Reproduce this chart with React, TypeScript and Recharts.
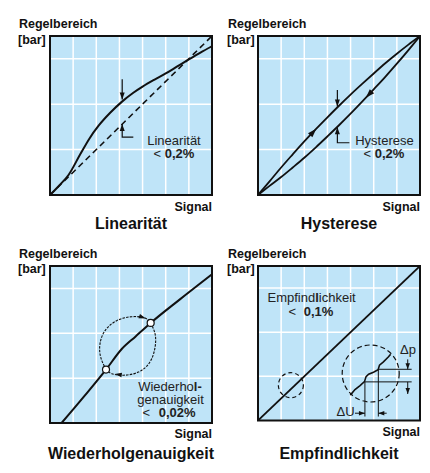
import React from 'react';
import { ComposedChart, Line, XAxis, YAxis, CartesianGrid, ReferenceDot, ReferenceArea } from 'recharts';

// ---------- shared ----------
const GRID_LINES = [1, 2, 3, 4, 5, 6];
const DOMAIN: [number, number] = [0, 7];
const TITLES = ['Linearität', 'Hysterese', 'Wiederholgenauigkeit', 'Empfindlichkeit'];
const Y_LABEL = ['Regelbereich', '[bar]'];
const X_LABEL = 'Signal';

// ---------- Linearität ----------
const linSignal = [0, 0.4, 0.8, 1.3, 1.7, 2.1, 2.6, 3.1, 3.6, 4.0, 4.5, 5.0, 5.5, 6.0, 6.5, 7.0];
const linActual = [0, 0.42, 0.88, 1.78, 2.48, 3.05, 3.62, 4.1, 4.5, 4.77, 5.07, 5.35, 5.66, 5.97, 6.27, 6.55];
const linIdealX = [0, 7];
const linIdealY = [0, 7];
const linMarkTopX = [3.12, 3.12];
const linMarkTopY = [5.1, 4.2];
const linMarkBotX = [3.12, 3.12, 3.6];
const linMarkBotY = [3.13, 2.55, 2.55];

// ---------- Hysterese ----------
const hysSignal = [0, 0.5, 1, 1.5, 2, 2.5, 3, 3.5, 4, 4.5, 5, 5.5, 6, 6.5, 7];
const hysRising = [0, 0.6, 1.21, 1.79, 2.36, 2.9, 3.42, 3.93, 4.42, 4.89, 5.35, 5.8, 6.22, 6.62, 7];
const hysFalling = [0, 0.4, 0.79, 1.21, 1.64, 2.1, 2.58, 3.07, 3.58, 4.11, 4.65, 5.2, 5.78, 6.38, 7];
const hysMarkTopX = [3.43, 3.43];
const hysMarkTopY = [4.62, 3.9];
const hysMarkBotX = [3.43, 3.43, 3.95];
const hysMarkBotY = [2.98, 2.3, 2.3];

// ---------- Wiederholgenauigkeit ----------
const wdhSignal = [0.5, 1.5, 2.42, 3.1, 3.7, 4.35, 5.6, 7];
const wdhValue = [0, 1.22, 2.38, 3.3, 3.86, 4.46, 5.5, 6.63];
const loopUpX = [2.42, 2.19, 2.16, 2.38, 2.88, 3.53, 4.11, 4.35];
const loopUpY = [2.38, 2.94, 3.53, 4.12, 4.56, 4.74, 4.68, 4.46];
const loopDownX = [4.35, 4.54, 4.54, 4.32, 3.82, 3.17, 2.67, 2.42];
const loopDownY = [4.46, 3.97, 3.38, 2.72, 2.27, 2.13, 2.2, 2.38];
const wdhPoints = [{ x: 2.42, y: 2.38 }, { x: 4.35, y: 4.46 }];

// ---------- Empfindlichkeit ----------
const empDiagX = [0, 7];
const empDiagY = [0, 7];
const stairX = [3.99, 4.19, 4.41, 4.6, 4.67, 4.78, 4.99, 5.19, 5.25, 5.42, 5.64, 5.73];
const stairY = [1.15, 1.4, 1.58, 1.76, 1.99, 2.1, 2.19, 2.3, 2.51, 2.66, 2.89, 3.0];
const smallCircle = { x: 1.42, y: 1.6 };
const bigCircle = { x: 4.87, y: 2.13 };
const dpUpperX = [5.2, 6.64];
const dpUpperY = [2.32, 2.32];
const dpLowerX = [4.62, 6.64];
const dpLowerY = [1.75, 1.75];
const duLeftX = [4.62, 4.62];
const duLeftY = [1.75, 0.18];
const duRightX = [5.2, 5.2];
const duRightY = [2.32, 0.18];
const duArrowLX = [4.19, 4.62];
const duArrowRX = [5.56, 5.2];
const duArrowY = [0.33, 0.33];
const dpArrowTopX = [6.47, 6.47];
const dpArrowTopY = [2.77, 2.32];
const dpArrowBotX = [6.47, 6.47];
const dpArrowBotY = [1.75, 1.2];

const zip = (xs: number[], ys: number[]) => xs.map((x, i) => ({ x, y: ys[i] }));

const BLUE = '#bfe4f8';
const INK = '#111';
const FONT = '"Liberation Sans", Arial, Helvetica, sans-serif';

const arrowHead = (dir: number, len = 7, wid = 5) => (p: any) => (
  <path
    d={`M0,0L${-len},${-wid / 2}L${-len},${wid / 2}Z`}
    transform={`translate(${p.cx},${p.cy}) rotate(${dir})`}
    fill={INK}
  />
);

const curve = (key: string, data: { x: number; y: number }[], width = 2, type: any = 'linear', dash?: string) => (
  <Line
    key={key}
    data={data}
    dataKey="y"
    type={type}
    stroke={INK}
    strokeWidth={width}
    strokeDasharray={dash}
    dot={false}
    activeDot={false}
    isAnimationActive={false}
  />
);

const arrow = (key: string, x: number, y: number, dir: number, len = 7, wid = 5) => (
  <ReferenceDot key={key} x={x} y={y} r={1} shape={arrowHead(dir, len, wid)} ifOverflow="visible" />
);

const M = 8;
function panel(left: number, top: number, w: number, h: number, content: React.ReactNode[]) {
  return (
    <div style={{ position: 'absolute', left: left - M, top: top - M }}>
      <ComposedChart width={w + 2 * M} height={h + 2 * M} margin={{ top: M, right: M, bottom: M, left: M }}>
        <XAxis type="number" dataKey="x" domain={DOMAIN} hide allowDataOverflow />
        <YAxis type="number" dataKey="y" domain={DOMAIN} hide allowDataOverflow width={0} />
        <CartesianGrid
          horizontalValues={GRID_LINES}
          verticalValues={GRID_LINES}
          stroke="#fff"
          strokeWidth={1.5}
          fill={BLUE}
          fillOpacity={1}
        />
        {content}
        <ReferenceArea x1={0} x2={7} y1={0} y2={7} fill="none" fillOpacity={0} stroke={INK} strokeWidth={2} ifOverflow="visible" />
      </ComposedChart>
    </div>
  );
}

export default function App() {
  const p1 = [
    curve('ideal', zip(linIdealX, linIdealY), 1.6, 'linear', '6 4'),
    curve('actual', zip(linSignal, linActual), 2, 'monotone'),
    curve('mt', zip(linMarkTopX, linMarkTopY), 1.2),
    curve('mb', zip(linMarkBotX, linMarkBotY), 1.2),
    arrow('a1', 3.12, 4.2, 90),
    arrow('a2', 3.12, 3.13, -90),
  ];
  const p2 = [
    curve('up', zip(hysSignal, hysRising), 1.8, 'monotone'),
    curve('down', zip(hysSignal, hysFalling), 1.8, 'monotone'),
    curve('mt', zip(hysMarkTopX, hysMarkTopY), 1.2),
    curve('mb', zip(hysMarkBotX, hysMarkBotY), 1.2),
    arrow('a1', 3.43, 3.9, 90),
    arrow('a2', 3.43, 2.98, -90),
    arrow('a3', 2.52, 2.92, -47, 9, 6),
    arrow('a4', 4.66, 4.28, 133, 9, 6),
  ];
  const p3 = [
    curve('main', zip(wdhSignal, wdhValue), 2, 'monotone'),
    curve('lu', zip(loopUpX, loopUpY), 1.1, 'natural', '2.5 1.2'),
    curve('ld', zip(loopDownX, loopDownY), 1.1, 'natural', '2.5 1.2'),
    arrow('a1', 4.14, 4.66, 20, 7, 4.5),
    arrow('a2', 2.8, 2.18, 188, 7, 4.5),
    ...wdhPoints.map((p, i) => (
      <ReferenceDot key={'c' + i} x={p.x} y={p.y} r={3.5} fill="#fff" stroke={INK} strokeWidth={1.2} ifOverflow="visible" />
    )),
  ];
  const p4 = [
    curve('diag', zip(empDiagX, empDiagY), 1.8),
    <ReferenceDot key="sc" x={smallCircle.x} y={smallCircle.y} r={12.5} fill="none" stroke={INK} strokeWidth={1.2} strokeDasharray="4 3" ifOverflow="visible" />,
    <ReferenceDot key="bc" x={bigCircle.x} y={bigCircle.y} r={28.5} fill="none" stroke={INK} strokeWidth={1.2} strokeDasharray="5 3" ifOverflow="visible" />,
    curve('stair', zip(stairX, stairY), 1.6),
    curve('hu', zip(dpUpperX, dpUpperY), 1),
    curve('hl', zip(dpLowerX, dpLowerY), 1),
    curve('vl', zip(duLeftX, duLeftY), 1),
    curve('vr', zip(duRightX, duRightY), 1),
    curve('al', zip(duArrowLX, duArrowY), 1),
    curve('ar', zip(duArrowRX, duArrowY), 1),
    curve('pt', zip(dpArrowTopX, dpArrowTopY), 1),
    curve('pb', zip(dpArrowBotX, dpArrowBotY), 1),
    arrow('x1', duArrowLX[1], duArrowY[1], 0, 6, 4.5),
    arrow('x2', duArrowRX[1], duArrowY[1], 180, 6, 4.5),
    arrow('x3', dpArrowTopX[1], dpArrowTopY[1], 90, 6, 4.5),
    arrow('x4', dpArrowBotX[1], dpArrowBotY[1], 90, 6, 4.5),
  ];

  const bold = { fontWeight: 'bold' as const };
  const note = { fontSize: 13, fill: '#222' };
  const head = { fontSize: 12.5, fill: INK, ...bold };
  const title = { fontSize: 16, fill: INK, ...bold, textAnchor: 'middle' as const };

  return (
    <div style={{ position: 'absolute', left: 0, top: 0, width: 430, height: 473, background: '#fff', overflow: 'hidden' }}>
      {panel(50, 36, 162, 159, p1)}
      {panel(258, 36, 162, 159, p2)}
      {panel(50, 266, 162, 157, p3)}
      {panel(258, 266, 162, 154.5, p4)}
      <svg width={430} height={473} style={{ position: 'absolute', left: 0, top: 0, pointerEvents: 'none' }} fontFamily={FONT}>
        {/* axis labels */}
        <text x={19} y={28} {...head}>{Y_LABEL[0]}</text>
        <text x={18} y={44} {...head}>{Y_LABEL[1]}</text>
        <text x={228} y={28} {...head}>{Y_LABEL[0]}</text>
        <text x={227} y={44} {...head}>{Y_LABEL[1]}</text>
        <text x={19} y={258} {...head}>{Y_LABEL[0]}</text>
        <text x={18} y={273} {...head}>{Y_LABEL[1]}</text>
        <text x={228} y={258} {...head}>{Y_LABEL[0]}</text>
        <text x={227} y={273} {...head}>{Y_LABEL[1]}</text>
        <text x={212} y={211} {...head} textAnchor="end">{X_LABEL}</text>
        <text x={420} y={211} {...head} textAnchor="end">{X_LABEL}</text>
        <text x={212} y={438} {...head} textAnchor="end">{X_LABEL}</text>
        <text x={420} y={436} {...head} textAnchor="end">{X_LABEL}</text>
        {/* titles */}
        <text x={131} y={229} {...title}>{TITLES[0]}</text>
        <text x={339} y={229} {...title}>{TITLES[1]}</text>
        <text x={131} y={459} {...title}>{TITLES[2]}</text>
        <text x={339} y={459} {...title}>{TITLES[3]}</text>
        {/* annotations */}
        <text x={174} y={145} {...note} textAnchor="middle">Linearität</text>
        <text x={174} y={158} {...note} textAnchor="middle">{'< '}<tspan {...bold}>0,2%</tspan></text>
        <text x={384.5} y={145} {...note} textAnchor="middle">Hysterese</text>
        <text x={384} y={158} {...note} textAnchor="middle">{'< '}<tspan {...bold}>0,2%</tspan></text>
        <text x={170} y={390.5} {...note} textAnchor="middle">Wiederho<tspan {...bold}>l-</tspan></text>
        <text x={170.5} y={403.5} {...note} textAnchor="middle">genauigkeit</text>
        <text x={169} y={416.5} {...note} textAnchor="middle">{'< '}<tspan dx={5} {...bold}>0,02%</tspan></text>
        <text x={267.5} y={302} {...note}>Empfind<tspan {...bold}>l</tspan>ichkeit</text>
        <text x={288.5} y={315.5} {...note}>{'< '}<tspan dx={4} {...bold}>0,1%</tspan></text>
        <text x={400} y={354} {...note}>Δp</text>
        <text x={336.5} y={415.5} {...note}>ΔU</text>
      </svg>
    </div>
  );
}
